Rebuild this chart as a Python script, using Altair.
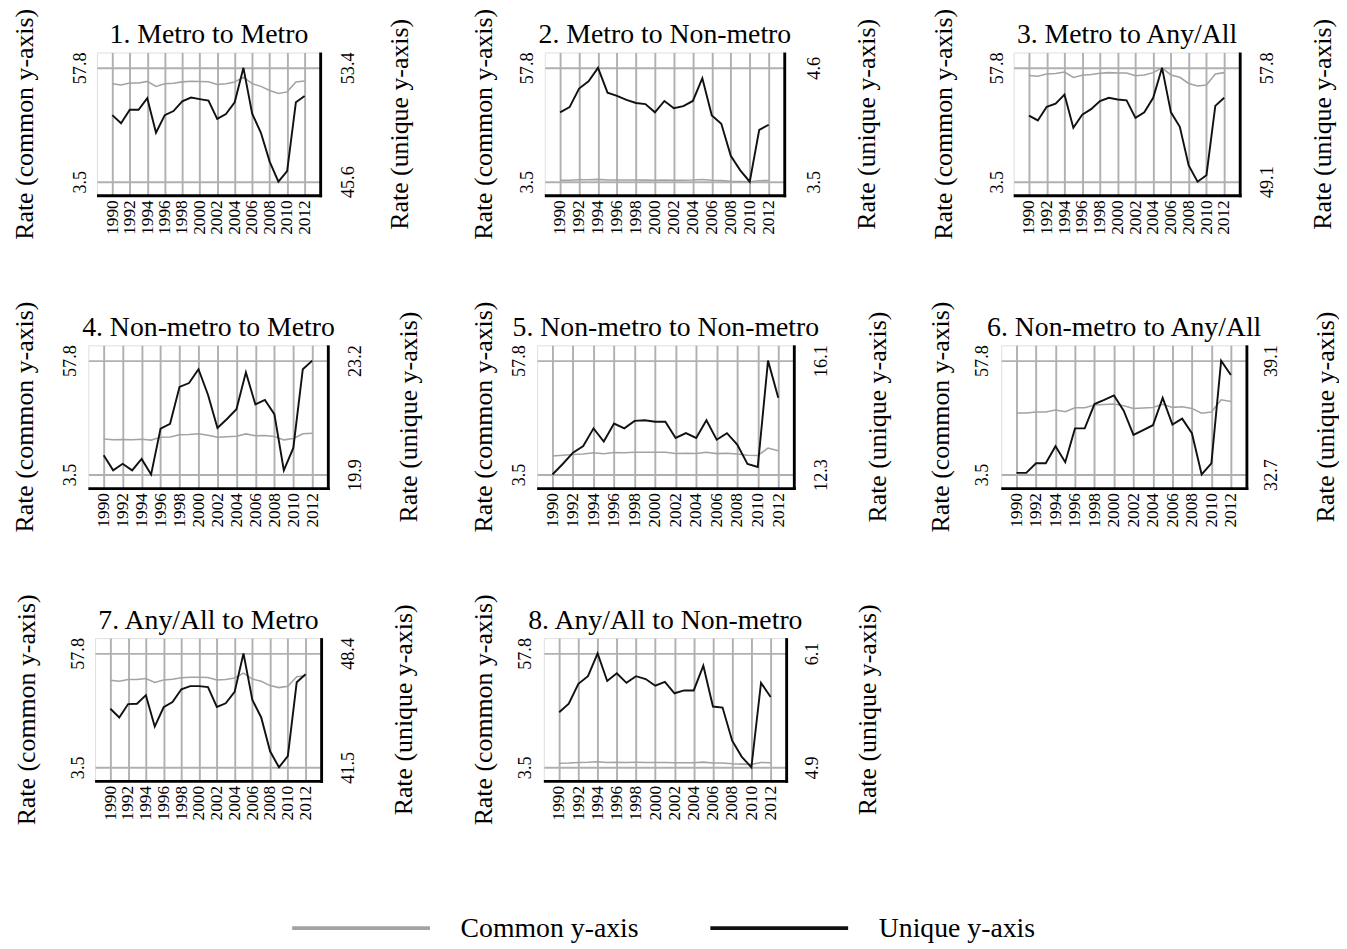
import altair as alt
import pandas as pd

years = list(range(1990, 2013))

panel_titles = [
    "1. Metro to Metro",
    "2. Metro to Non-metro",
    "3. Metro to Any/All",
    "4. Non-metro to Metro",
    "5. Non-metro to Non-metro",
    "6. Non-metro to Any/All",
    "7. Any/All to Metro",
    "8. Any/All to Non-metro",
]

metro_to_metro = [50.16, 49.61, 50.53, 50.53, 51.32, 48.95, 50.16, 50.44, 51.10, 51.36, 51.26, 51.15,
                  49.90, 50.23, 51.04, 53.40, 50.26, 48.95, 46.98, 45.60, 46.33, 51.04, 51.47]
metro_to_nonmetro = [4.17, 4.22, 4.40, 4.47, 4.60, 4.36, 4.33, 4.29, 4.26, 4.25, 4.17, 4.28,
                     4.21, 4.23, 4.28, 4.50, 4.14, 4.06, 3.75, 3.61, 3.50, 4.00, 4.05]
metro_to_any = [54.15, 53.78, 54.82, 55.07, 55.76, 53.22, 54.22, 54.64, 55.26, 55.51, 55.38, 55.31,
                53.98, 54.40, 55.51, 57.80, 54.40, 53.29, 50.34, 49.10, 49.60, 54.89, 55.51]
nonmetro_to_metro = [20.46, 20.02, 20.21, 20.02, 20.35, 19.90, 21.23, 21.37, 22.44, 22.55, 22.95, 22.21,
                     21.25, 21.51, 21.79, 22.86, 21.93, 22.06, 21.65, 20.02, 20.67, 22.95, 23.20]
nonmetro_to_nonmetro = [12.30, 12.65, 13.03, 13.25, 13.84, 13.40, 14.00, 13.84, 14.09, 14.11, 14.06, 14.06,
                        13.52, 13.68, 13.52, 14.11, 13.46, 13.68, 13.30, 12.65, 12.55, 16.10, 14.86]
nonmetro_to_any = [32.79, 32.79, 33.33, 33.33, 34.29, 33.39, 35.29, 35.29, 36.66, 36.89, 37.14, 36.29,
                   34.93, 35.20, 35.47, 37.01, 35.51, 35.84, 35.02, 32.70, 33.33, 39.10, 38.29]
any_to_metro = [45.05, 44.52, 45.33, 45.35, 45.87, 43.97, 45.14, 45.45, 46.23, 46.42, 46.42, 46.36,
                45.16, 45.38, 46.07, 48.40, 45.58, 44.52, 42.47, 41.50, 42.18, 46.65, 47.14]
any_to_nonmetro = [5.48, 5.57, 5.78, 5.86, 6.10, 5.81, 5.89, 5.79, 5.86, 5.83, 5.76, 5.80,
                   5.68, 5.71, 5.71, 5.97, 5.54, 5.53, 5.18, 5.01, 4.90, 5.79, 5.64]

series_names = ["Common y-axis", "Unique y-axis"]
series_colors = ["#a3a3a3", "#111111"]

all_series = [metro_to_metro, metro_to_nonmetro, metro_to_any, nonmetro_to_metro,
              nonmetro_to_nonmetro, nonmetro_to_any, any_to_metro, any_to_nonmetro]

FONT = "Liberation Serif"
H = 149
PAD_TOP, PAD_BOT, PAD_X = 16, 14, 16

cmin = min(min(s) for s in all_series)
cmax = max(max(s) for s in all_series)

color_scale = alt.Scale(domain=series_names, range=series_colors)
legend = alt.Legend(orient="none", legendX=294, legendY=841, direction="horizontal", title=None,
                    symbolType="stroke", symbolSize=20736, symbolStrokeWidth=4,
                    labelFont=FONT, labelFontSize=29, labelColor="black", labelOffset=30,
                    labelLimit=0, columnPadding=66)


def ydomain(lo, hi):
    per = (hi - lo) / (H - PAD_TOP - PAD_BOT)
    return [lo - PAD_BOT * per, hi + PAD_TOP * per]


def panel(title, vals, w, ltp, rtp, llp, rlp):
    df = pd.DataFrame({"year": years, "value": vals})
    step = (w - 2 * PAD_X) / (years[-1] - years[0])
    xdom = [years[0] - PAD_X / step, years[-1] + PAD_X / step]
    xscale = alt.Scale(domain=xdom, nice=False, zero=False)
    x_bottom = alt.X("year:Q", scale=xscale,
                     axis=alt.Axis(orient="bottom", values=years[::2], format="d", labelAngle=270,
                                   labelOverlap=False, labelFlush=False, grid=True,
                                   gridColor="#b0b0b0", gridWidth=2, ticks=False, tickSize=0,
                                   domain=False, labelFont=FONT, labelFontSize=18,
                                   labelColor="black", labelPadding=5, title=None))
    x_top = alt.X("year:Q", scale=xscale,
                  axis=alt.Axis(orient="top", labels=False, ticks=False, tickSize=0, domain=False,
                                grid=False, labelPadding=0, minExtent=0, maxExtent=0,
                                title=title, titleFont=FONT,
                                titleFontSize=29, titleFontWeight="normal", titleColor="black",
                                titleBaseline="alphabetic", titlePadding=10))
    umin, umax = min(vals), max(vals)
    common = alt.Chart(df).transform_calculate(series=f"'{series_names[0]}'").mark_line(strokeWidth=1.6).encode(
        x=x_bottom,
        y=alt.Y("value:Q", scale=alt.Scale(domain=ydomain(cmin, cmax), nice=False, zero=False),
                axis=alt.Axis(orient="left", values=[cmin, cmax], format=".1f", labelAngle=270,
                              grid=True, gridColor="#b0b0b0", gridWidth=2, ticks=False, tickSize=0,
                              domain=False, labelFont=FONT, labelFontSize=19, labelColor="black",
                              labelPadding=llp, title="Rate (common y-axis)", titleFont=FONT,
                              titleFontSize=27, titleFontWeight="normal", titleColor="black",
                              titlePadding=ltp)),
        color=alt.Color("series:N", scale=color_scale, legend=legend),
    )
    unique = alt.Chart(df).transform_calculate(series=f"'{series_names[1]}'").mark_line(strokeWidth=2).encode(
        x=x_top,
        y=alt.Y("value:Q", scale=alt.Scale(domain=ydomain(umin, umax), nice=False, zero=False),
                axis=alt.Axis(orient="right", values=[umin, umax], format=".1f", labelAngle=270,
                              grid=False, ticks=False, tickSize=0, domain=False, labelFont=FONT,
                              labelFontSize=19, labelColor="black", labelPadding=rlp,
                              title="Rate (unique y-axis)", titleFont=FONT, titleFontSize=27,
                              titleFontWeight="normal", titleColor="black", titleAngle=270,
                              titleBaseline="top", titlePadding=rtp)),
        color=alt.Color("series:N", scale=color_scale, legend=legend),
    )
    edge = pd.DataFrame({"k": [0]})
    right_edge = alt.Chart(edge).mark_rule(color="black", strokeWidth=3).encode(
        x=alt.value(w + 0.75), y=alt.value(0), y2=alt.value(H + 2.25))
    bottom_edge = alt.Chart(edge).mark_rule(color="black", strokeWidth=3).encode(
        x=alt.value(0), x2=alt.value(w + 2.25), y=alt.value(H + 0.75))
    return alt.layer(common, unique, right_edge, bottom_edge).resolve_scale(
        y="independent").resolve_axis(x="independent").properties(width=w, height=H)


def spacer():
    return alt.Chart(pd.DataFrame({"k": [0]})).mark_rule(opacity=0, strokeWidth=0).encode(
        x=alt.value(0), y=alt.value(0), y2=alt.value(1)
    ).properties(width=1, height=1, view=alt.ViewBackground(stroke="transparent"))


# width, left title padding, right title padding, left label padding, right label padding
layout = [
    (233, 34, 32, 8, 20), (250, 22, 33, 9, 22), (236, 32, 35, 8, 20),
    (250, 24, 34, 9, 19), (268, 14, 37, 9, 19), (256, 20, 34, 10, 17),
    (236, 30, 36, 8, 19), (253, 20, 36, 10, 18),
]

panels = [panel(t, s, *lay) for t, s, lay in zip(panel_titles, all_series, layout)]

row1 = alt.hconcat(spacer(), alt.hconcat(alt.hconcat(panels[0], panels[1], spacing=58), panels[2], spacing=51), spacing=0)
row2 = alt.hconcat(spacer(), alt.hconcat(alt.hconcat(panels[3], panels[4], spacing=49), panels[5], spacing=37), spacing=0)
row3 = alt.hconcat(spacer(), alt.hconcat(panels[6], panels[7], spacing=54), spacing=2)

chart = alt.vconcat(row1, row2, row3, spacing=63).properties(
    padding={"left": 0, "top": -22, "right": 0, "bottom": 0}
).configure_view(stroke="black", strokeWidth=1.5).configure(background="white")

chart.save("out.html", embed_options={"renderer": "svg", "actions": False})
